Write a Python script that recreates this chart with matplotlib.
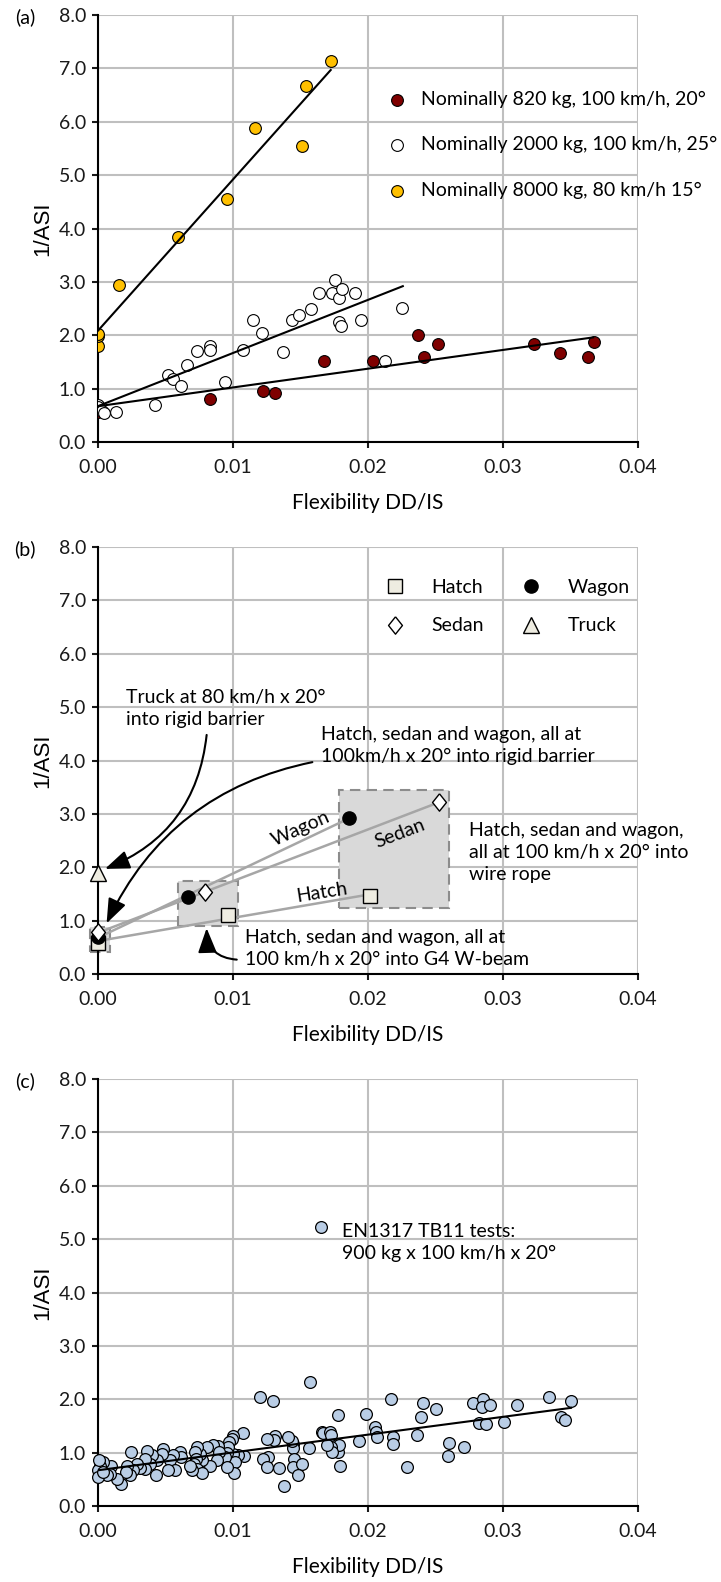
import numpy as np
import matplotlib.pyplot as plt
from matplotlib.patches import Rectangle
from matplotlib.ticker import FormatStrFormatter

plt.rcParams['font.family'] = ['Lato', 'DejaVu Sans']

# ---- panel (a): three nominal vehicle masses
car820_x = [0.0, 0.00834, 0.01226, 0.01311, 0.01675, 0.02036, 0.02373,
            0.02414, 0.02519, 0.03234, 0.03421, 0.03632, 0.03673]
car820_y = [0.56, 0.80, 0.95, 0.91, 1.52, 1.52, 2.01,
            1.60, 1.83, 1.83, 1.67, 1.59, 1.87]
car2000_x = [0.0, 0.0, 0.0003, 0.0005, 0.00136, 0.00426, 0.00521, 0.00558,
             0.0062, 0.0066, 0.00739, 0.00834, 0.00834, 0.00943, 0.01079,
             0.01147, 0.01215, 0.01369, 0.0144, 0.01488, 0.01583, 0.01641,
             0.01733, 0.0176, 0.01787, 0.01811, 0.01787, 0.018, 0.01906,
             0.01954, 0.02128, 0.02254]
car2000_y = [0.70, 0.66, 0.59, 0.54, 0.57, 0.70, 1.25, 1.18,
             1.05, 1.44, 1.70, 1.79, 1.73, 1.12, 1.73,
             2.28, 2.05, 1.68, 2.28, 2.38, 2.50, 2.79,
             2.79, 3.04, 2.70, 2.87, 2.25, 2.17, 2.79,
             2.28, 1.51, 2.51]
truck8000_x = [0.0, 0.0, 0.0, 0.0016, 0.00596, 0.00957, 0.01168, 0.01511,
               0.01546, 0.01726]
truck8000_y = [1.79, 1.99, 2.03, 2.95, 3.85, 4.55, 5.88, 5.55, 6.67, 7.14]
# trend lines (end points)
fit820_x, fit820_y = [0.0, 0.0367], [0.67, 1.96]
fit2000_x, fit2000_y = [0.0, 0.0226], [0.67, 2.92]
fit8000_x, fit8000_y = [0.0, 0.01726], [2.08, 6.97]

# ---- panel (b): vehicle types, rigid / G4 W-beam / wire rope
hatch_x, hatch_y = [0.0, 0.00967, 0.0202], [0.58, 1.11, 1.46]
wagon_x, wagon_y = [0.0, 0.0067, 0.01862], [0.70, 1.45, 2.93]
sedan_x, sedan_y = [0.0, 0.00797, 0.02526], [0.78, 1.53, 3.22]
truck_x, truck_y = [0.0], [1.89]
# shaded ranges: rigid, G4 W-beam, wire rope
range_x0 = [-0.00057, 0.00597, 0.01784]
range_x1 = [0.00091, 0.01042, 0.02604]
range_y0 = [0.42, 0.90, 1.24]
range_y1 = [0.89, 1.74, 3.44]

# ---- panel (c): EN1317 TB11 tests
tb11_x = [0.01079, 0.01005, 0.00993, 0.00975, 0.01084, 0.01042, 0.01005,
          0.01017, 0.0101, 0.00968, 0.00956, 0.00943, 0.0096, 0.00894,
          0.00857, 0.00901, 0.00881, 0.00832, 0.00812, 0.0077, 0.00758,
          0.00733, 0.00721, 0.00728, 0.00714, 0.00733, 0.0077, 0.00696,
          0.00684, 0.0061, 0.00615, 0.0056, 0.00536, 0.00573, 0.00524,
          0.00486, 0.00474, 0.00437, 0.004, 0.00388, 0.00432, 0.00363,
          0.00351, 0.00351, 0.00314, 0.00289, 0.00244, 0.00264, 0.0024,
          0.00215, 0.0021, 0.0017, 0.00141, 0.00096, 0.00091, 0.00067,
          0.00037, 0.00017, 0.00005, 0.0, 0.00012, 0.00042,
          0.01202, 0.01296, 0.01572, 0.01782, 0.01987, 0.0217, 0.02412,
          0.02504, 0.02392, 0.02368, 0.02054, 0.0206, 0.02066, 0.0219,
          0.0219, 0.01938, 0.02289, 0.01795, 0.01782, 0.0179, 0.01726,
          0.01733, 0.01659, 0.01672, 0.01721, 0.01728, 0.01696, 0.01568,
          0.01449, 0.01449, 0.01437, 0.01412, 0.01313, 0.01306, 0.01257,
          0.01264, 0.01227, 0.01257, 0.01345, 0.01454, 0.01449, 0.01511,
          0.01481, 0.01382,
          0.02605, 0.02598, 0.02716, 0.02778, 0.02852, 0.02847, 0.02906,
          0.02822, 0.02877, 0.03012, 0.03104, 0.03346, 0.03506, 0.03432,
          0.03464]
tb11_y = [1.36, 1.31, 1.26, 1.20, 0.93, 0.95, 0.98,
          0.83, 0.62, 1.11, 0.99, 0.92, 0.74, 1.12,
          1.14, 1.01, 0.86, 0.76, 1.11, 0.86, 0.97,
          1.11, 1.01, 0.89, 0.79, 0.70, 0.62, 0.67,
          0.76, 1.01, 0.92, 0.95, 0.87, 0.68, 0.67,
          1.07, 0.97, 0.87, 0.95, 0.79, 0.58, 1.04,
          0.89, 0.70, 0.72, 0.79, 1.01, 0.67, 0.58,
          0.76, 0.64, 0.42, 0.51, 0.76, 0.61, 0.58,
          0.83, 0.76, 0.67, 0.54, 0.86, 0.64,
          2.04, 1.96, 2.33, 1.70, 1.73, 2.00, 1.93,
          1.82, 1.67, 1.34, 1.48, 1.39, 1.29, 1.29,
          1.17, 1.21, 0.73, 0.76, 1.01, 1.15, 1.11,
          1.01, 1.39, 1.37, 1.39, 1.33, 1.14, 1.09,
          1.17, 1.08, 1.21, 1.29, 1.31, 1.23, 1.26,
          0.92, 0.89, 0.73, 0.71, 0.89, 0.73, 0.78,
          0.59, 0.37,
          1.18, 0.93, 1.11, 1.93, 2.01, 1.86, 1.90,
          1.56, 1.54, 1.58, 1.90, 2.04, 1.97, 1.67,
          1.62]
fit_tb11_x, fit_tb11_y = [0.0, 0.03506], [0.67, 1.84]

MAROON = '#7f0000'
GOLD = '#ffc000'
PALE_BLUE = '#b9cde5'
BEIGE = '#eeece1'
GREY_LINE = '#a6a6a6'
DOT = 72


def setup_axes(ax, tag):
    ''' Excel-like look shared by the three panels '''
    ax.set_xlim(0, 0.04)
    ax.set_ylim(0, 8)
    ax.set_xticks(np.arange(0, 0.0401, 0.01))
    ax.set_yticks(np.arange(0, 8.01, 1.0))
    ax.xaxis.set_major_formatter(FormatStrFormatter('%.2f'))
    ax.yaxis.set_major_formatter(FormatStrFormatter('%.1f'))
    ax.grid(True, color='#bfbfbf', lw=1.5)
    ax.set_axisbelow(True)
    for side in ['top', 'right']:
        ax.spines[side].set_visible(False)
    for side in ['left', 'bottom']:
        ax.spines[side].set_linewidth(1.5)
    ax.tick_params(direction='out', length=4.5, width=1.5, labelsize=14,
                   colors='#1a1a1a')
    ax.tick_params(axis='x', pad=8)
    ax.tick_params(axis='y', pad=4)
    ax.set_xlabel('Flexibility DD/IS', fontsize=15, labelpad=12)
    ax.set_ylabel('1/ASI', fontsize=16, family='Liberation Sans', labelpad=4)
    ax.text(-0.135, 0.995, tag, transform=ax.transAxes, fontsize=14,
            ha='center', va='center')


fig = plt.figure(figsize=(7.21, 15.82), dpi=100)

# ---------------- (a)
ax = fig.add_axes([0.1355, 0.7206, 0.749, 0.2699])
setup_axes(ax, '(a)')
ax.scatter(car820_x, car820_y, s=DOT, c=MAROON, edgecolors='black',
           linewidths=0.8, zorder=3,
           label='Nominally 820 kg, 100 km/h, 20°')
ax.scatter(car2000_x, car2000_y, s=DOT, c='white', edgecolors='black',
           linewidths=0.8, zorder=3,
           label='Nominally 2000 kg, 100 km/h, 25°')
ax.scatter(truck8000_x, truck8000_y, s=DOT, c=GOLD, edgecolors='black',
           linewidths=0.8, zorder=3,
           label='Nominally 8000 kg, 80 km/h 15°')
for fx, fy in [(fit820_x, fit820_y), (fit2000_x, fit2000_y),
               (fit8000_x, fit8000_y)]:
    ax.plot(fx, fy, color='black', lw=1.5, zorder=4)
ax.legend(loc='upper left', bbox_to_anchor=(0.536, 0.822), frameon=False,
          fontsize=14, handletextpad=0.75, labelspacing=1.45, borderpad=0,
          borderaxespad=0, handlelength=1.0)

# ---------------- (b)
ax = fig.add_axes([0.1355, 0.3843, 0.749, 0.2699])
setup_axes(ax, '(b)')
for x0, x1, y0, y1 in zip(range_x0, range_x1, range_y0, range_y1):
    ax.add_patch(Rectangle((x0, y0), x1 - x0, y1 - y0, facecolor='#d9d9d9',
                           edgecolor='#8c8c8c', lw=1.5, ls=(0, (5, 3)),
                           clip_on=False, zorder=2))
for vx, vy in [(hatch_x, hatch_y), (wagon_x, wagon_y), (sedan_x, sedan_y)]:
    slope, icpt = np.polyfit(vx, vy, 1)
    ax.plot([0, max(vx)], [icpt, icpt + slope * max(vx)], color=GREY_LINE,
            lw=1.8, zorder=3)

diamond = [(0, 1), (0.8, 0), (0, -1), (-0.8, 0), (0, 1)]
h_hatch, = ax.plot(hatch_x, hatch_y, ls='none', marker='s', ms=10,
                   mfc=BEIGE, mec='black', mew=1, zorder=5, clip_on=False)
h_wagon, = ax.plot(wagon_x, wagon_y, ls='none', marker='o', ms=9.5,
                   mfc='black', mec='black', mew=1, zorder=5, clip_on=False)
h_sedan, = ax.plot(sedan_x, sedan_y, ls='none', marker=diamond, ms=12.5,
                   mfc='white', mec='black', mew=1, zorder=5, clip_on=False)
h_truck, = ax.plot(truck_x, truck_y, ls='none', marker='^', ms=11,
                   mfc=BEIGE, mec='black', mew=1, zorder=5, clip_on=False)
ax.legend([h_hatch, h_sedan, h_wagon, h_truck],
          ['Hatch', 'Sedan', 'Wagon', 'Truck'], ncol=2, loc='upper left',
          bbox_to_anchor=(0.532, 0.925), frameon=False, fontsize=14,
          handletextpad=1.4, labelspacing=1.1, columnspacing=1.9,
          borderpad=0, borderaxespad=0, handlelength=1.0)

ax.text(0.01505, 2.72, 'Wagon', fontsize=14, rotation=24,
        rotation_mode='anchor', ha='center', va='center', zorder=6)
ax.text(0.02237, 2.63, 'Sedan', fontsize=14, rotation=21,
        rotation_mode='anchor', ha='center', va='center', zorder=6)
ax.text(0.01658, 1.53, 'Hatch', fontsize=14, rotation=9,
        rotation_mode='anchor', ha='center', va='center', zorder=6)

ax.text(0.0021, 4.98, 'Truck at 80 km/h x 20°\ninto rigid barrier',
        fontsize=14, ha='left', va='center', linespacing=1.35)
ax.text(0.01651, 4.28,
        'Hatch, sedan and wagon, all at\n100km/h x 20° into rigid barrier',
        fontsize=14, ha='left', va='center', linespacing=1.35)
ax.text(0.02747, 2.28,
        'Hatch, sedan and wagon,\nall at 100 km/h x 20° into\nwire rope',
        fontsize=14, ha='left', va='center', linespacing=1.35)
ax.text(0.01089, 0.475,
        'Hatch, sedan and wagon, all at\n100 km/h x 20° into G4 W-beam',
        fontsize=14, ha='left', va='center', linespacing=1.35)

arrow_kw = dict(arrowstyle='-|>,head_length=1.0,head_width=0.38',
                color='black', lw=1.5, mutation_scale=15,
                shrinkA=0, shrinkB=0)
ax.annotate('', xy=(0.00054, 1.97), xytext=(0.00807, 4.48),
            arrowprops=dict(connectionstyle='arc3,rad=-0.3', **arrow_kw),
            zorder=6)
ax.annotate('', xy=(0.00066, 0.95), xytext=(0.0159, 3.97),
            arrowprops=dict(connectionstyle='arc3,rad=0.25', **arrow_kw),
            zorder=6)
ax.annotate('', xy=(0.00807, 0.86), xytext=(0.0103, 0.27),
            arrowprops=dict(connectionstyle='arc3,rad=-0.45', **arrow_kw),
            zorder=6)

# ---------------- (c)
ax = fig.add_axes([0.1355, 0.0480, 0.749, 0.2699])
setup_axes(ax, '(c)')
ax.scatter(tb11_x, tb11_y, s=DOT, c=PALE_BLUE, edgecolors='black',
           linewidths=0.9, zorder=3, clip_on=False)
ax.plot(fit_tb11_x, fit_tb11_y, color='black', lw=1.5, zorder=4)
ax.scatter([0.01651], [5.23], s=DOT, c=PALE_BLUE, edgecolors='black',
           linewidths=0.9, zorder=3)
ax.text(0.01811, 4.94, 'EN1317 TB11 tests:\n900 kg x 100 km/h x 20°',
        fontsize=14, ha='left', va='center', linespacing=1.35)

fig.savefig('out.png', dpi=100)
